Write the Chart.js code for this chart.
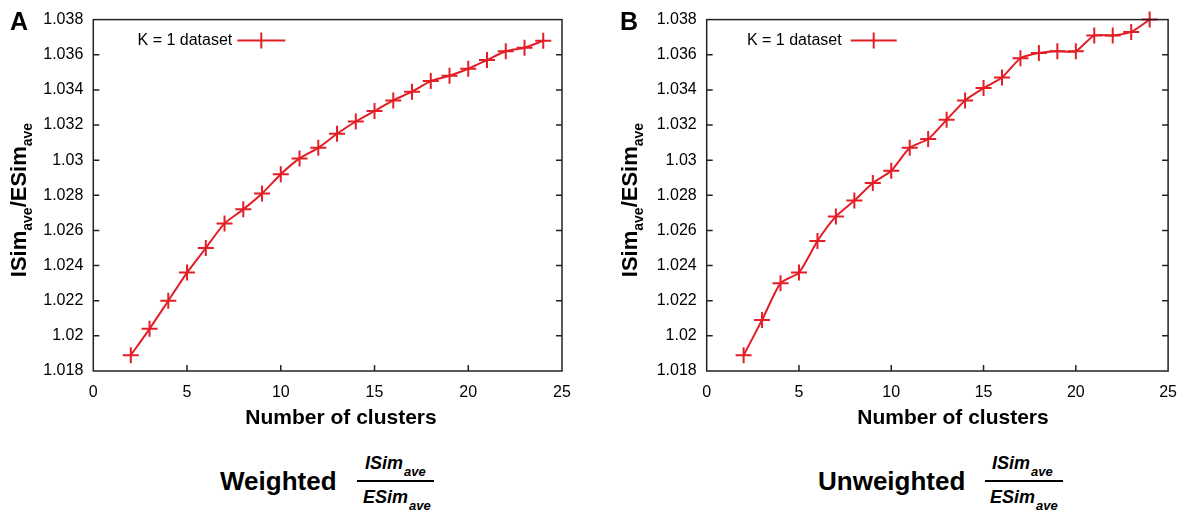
<!DOCTYPE html>
<html>
<head>
<meta charset="utf-8">
<script src="https://cdn.jsdelivr.net/npm/chart.js@4/dist/chart.umd.min.js"></script>
<style>
  html, body { margin: 0; padding: 0; background: #fff; }
  #wrap { position: relative; width: 1189px; height: 510px; overflow: hidden;
          font-family: 'Liberation Sans', Arial, Helvetica, sans-serif; color: #000; }
  canvas { position: absolute; top: 0; }
  .abs { position: absolute; white-space: nowrap; }
  .panel { font-weight: bold; font-size: 25px; line-height: 25px; }
  .xt { font-weight: bold; font-size: 21px; line-height: 21px; width: 300px; text-align: center; }
  .yt { font-weight: bold; font-size: 22px; line-height: 22px; width: 240px; height: 22px;
        text-align: center; transform: rotate(-90deg); transform-origin: 50% 50%; }
  .yt sub { font-size: 14px; vertical-align: baseline; position: relative; top: 6px; }
  .cap { font-weight: bold; font-size: 26px; line-height: 26px; }
  .fr { font-weight: bold; font-style: italic; font-size: 18px; line-height: 18px; }
  .fr sub { font-size: 13px; vertical-align: baseline; position: relative; top: 7px; margin-left: 1px; }
  .bar { position: absolute; height: 2px; background: #000; }
</style>
</head>
<body>
<div id="wrap">
  <canvas id="c1" width="595" height="440" style="left:0px"></canvas>
  <canvas id="c2" width="589" height="440" style="left:600px"></canvas>

  <div class="abs panel" style="left:10px; top:9px;">A</div>
  <div class="abs panel" style="left:620px; top:9px;">B</div>

  <div class="abs yt" style="left:-101px; top:188.5px;">ISim<sub>ave</sub>/ESim<sub>ave</sub></div>
  <div class="abs yt" style="left:509.5px; top:188.5px;">ISim<sub>ave</sub>/ESim<sub>ave</sub></div>

  <div class="abs xt" style="left:191px; top:406px;">Number of clusters</div>
  <div class="abs xt" style="left:803px; top:406px;">Number of clusters</div>

  <div class="abs cap" style="left:220px; top:468px;">Weighted</div>
  <div class="abs fr" style="left:365px; top:453.8px;">ISim<sub>ave</sub></div>
  <div class="bar" style="left:357px; top:480px; width:77px;"></div>
  <div class="abs fr" style="left:363px; top:487.8px;">ESim<sub>ave</sub></div>

  <div class="abs cap" style="left:818px; top:468px;">Unweighted</div>
  <div class="abs fr" style="left:992px; top:453.8px;">ISim<sub>ave</sub></div>
  <div class="bar" style="left:985px; top:480px; width:78px;"></div>
  <div class="abs fr" style="left:990px; top:487.8px;">ESim<sub>ave</sub></div>
</div>

<script>
// ---- data ----
const clusters = [2,3,4,5,6,7,8,9,10,11,12,13,14,15,16,17,18,19,20,21,22,23,24];
const weightedRatio = [1.0189,1.0204,1.0220,1.0236,1.0250,1.0264,1.0272,1.0281,1.0292,1.0301,1.0307,1.0315,
                       1.0322,1.0328,1.0334,1.0339,1.0345,1.0348,1.0352,1.0357,1.0362,1.0364,1.0368];
const unweightedRatio = [1.0189,1.0209,1.0230,1.0236,1.0254,1.0268,1.0277,1.0287,1.0294,1.0307,1.0312,1.0323,
                         1.0334,1.0341,1.0347,1.0358,1.0361,1.0362,1.0362,1.0371,1.0371,1.0373,1.0380];
const seriesLabel = 'K = 1 dataset';
const xTicks = [0,5,10,15,20,25];
const yTicks = [1.018,1.020,1.022,1.024,1.026,1.028,1.030,1.032,1.034,1.036,1.038];

const RED = '#e41e26';
const FRAME = '#222222';

const framePlugin = {
  id: 'frameAndLegend',
  afterDatasetsDraw(chart, args, opts) {
    const ctx = chart.ctx, a = chart.chartArea;
    const xs = chart.scales.x, ys = chart.scales.y;
    ctx.save();
    ctx.strokeStyle = FRAME;
    ctx.lineWidth = 1.5;
    ctx.strokeRect(a.left, a.top, a.right - a.left, a.bottom - a.top);
    const tl = 6;
    ctx.beginPath();
    xs.ticks.forEach(t => {
      if (t.value <= xs.min || t.value >= xs.max) return;
      const px = xs.getPixelForValue(t.value);
      ctx.moveTo(px, a.bottom); ctx.lineTo(px, a.bottom - tl);
    });
    ys.ticks.forEach(t => {
      if (t.value <= ys.min + 1e-9 || t.value >= ys.max - 1e-9) return;
      const py = ys.getPixelForValue(t.value);
      ctx.moveTo(a.left, py); ctx.lineTo(a.left + tl, py);
      ctx.moveTo(a.right, py); ctx.lineTo(a.right - tl, py);
    });
    ctx.stroke();

    // legend: text, then line sample with cross marker
    const ds = chart.data.datasets[0];
    const ly = 40.5;
    ctx.fillStyle = '#000';
    ctx.font = "16px 'Liberation Sans', Arial, sans-serif";
    ctx.textAlign = 'right';
    ctx.textBaseline = 'middle';
    ctx.fillText(ds.label, a.left + opts.textEnd, ly);
    const x0 = a.left + opts.lineStart, x1 = a.left + opts.lineEnd, xc = (x0 + x1) / 2;
    ctx.strokeStyle = ds.borderColor;
    ctx.lineWidth = 2;
    ctx.beginPath();
    ctx.moveTo(x0, ly); ctx.lineTo(x1, ly);
    ctx.moveTo(xc, ly - 8); ctx.lineTo(xc, ly + 8);
    ctx.stroke();
    ctx.restore();
  }
};

function makeChart(id, values, plotLeft, padRight, legendOpts) {
  const data = clusters.map((c, i) => ({ x: c, y: values[i] }));
  return new Chart(document.getElementById(id), {
    type: 'line',
    data: {
      datasets: [{
        label: seriesLabel,
        data: data,
        borderColor: RED,
        backgroundColor: RED,
        borderWidth: 2,
        tension: 0.2,
        pointStyle: 'cross',
        pointRadius: 8,
        pointBorderWidth: 2,
        pointBorderColor: RED,
        pointHoverRadius: 8,
        clip: false
      }]
    },
    options: {
      responsive: false,
      animation: false,
      events: [],
      layout: { padding: { left: 0, right: padRight, top: 17, bottom: 0 } },
      plugins: {
        legend: { display: false },
        tooltip: { enabled: false },
        title: { display: false },
        frameAndLegend: legendOpts
      },
      scales: {
        x: {
          type: 'linear',
          min: xTicks[0], max: xTicks[xTicks.length - 1],
          afterBuildTicks: s => { s.ticks = xTicks.map(v => ({ value: v })); },
          ticks: { color: '#000', font: { size: 16, family: "'Liberation Sans', Arial, sans-serif" },
                   padding: 12, maxRotation: 0, autoSkip: false },
          grid: { display: false, drawTicks: false },
          border: { display: false },
          afterFit: s => { s.height = 69; }
        },
        y: {
          type: 'linear',
          min: yTicks[0], max: yTicks[yTicks.length - 1],
          afterBuildTicks: s => { s.ticks = yTicks.map(v => ({ value: v })); },
          ticks: { color: '#000', font: { size: 16, family: "'Liberation Sans', Arial, sans-serif" },
                   padding: 10, autoSkip: false,
                   callback: v => String(Number(Number(v).toFixed(3))) },
          grid: { display: false, drawTicks: false },
          border: { display: false },
          afterFit: s => { s.width = plotLeft; }
        }
      }
    },
    plugins: [framePlugin]
  });
}

makeChart('c1', weightedRatio, 93.3, 33, { textEnd: 139, lineStart: 144, lineEnd: 192 });
makeChart('c2', unweightedRatio, 106.7, 15, { textEnd: 135, lineStart: 144, lineEnd: 190 });
</script>
</body>
</html>
